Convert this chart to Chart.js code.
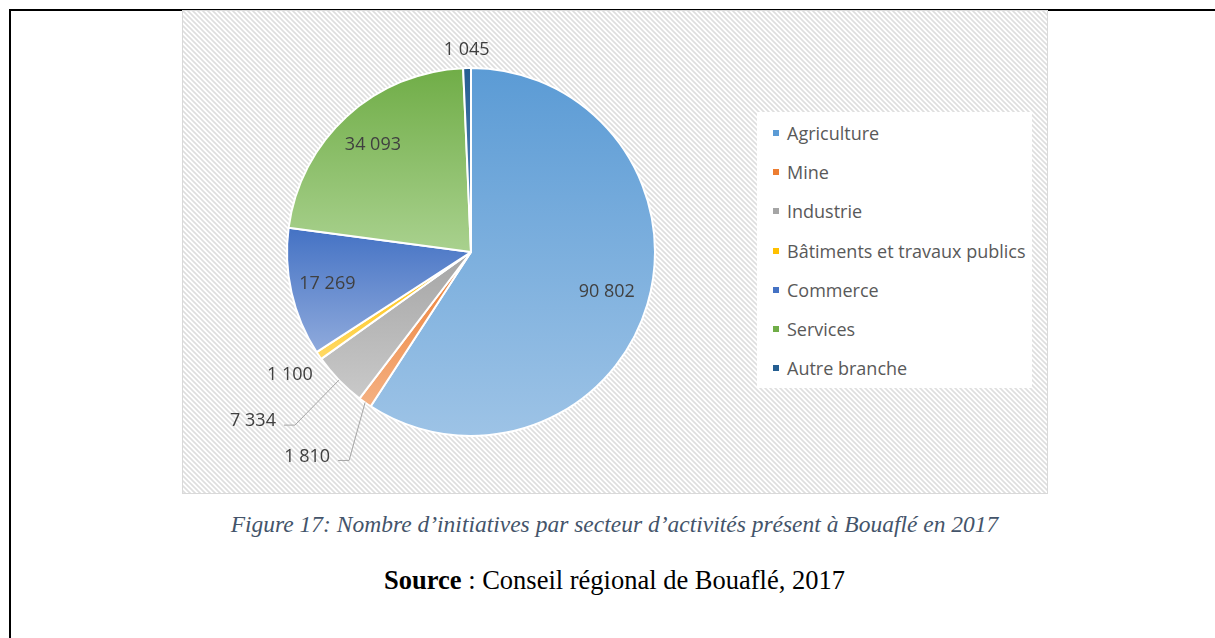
<!DOCTYPE html>
<html>
<head>
<meta charset="utf-8">
<script src="https://cdn.jsdelivr.net/npm/chart.js@4/dist/chart.umd.min.js"></script>
<style>
    body { margin: 0; background: #fff; width: 1215px; height: 638px; overflow: hidden; position: relative; }
    .frame-top { position: absolute; left: 9px; top: 9px; width: 1206px; height: 2px; background: #000; }
    .frame-left { position: absolute; left: 9px; top: 9px; width: 2px; height: 629px; background: #000; }
    #wrap { position: absolute; left: 182px; top: 10px; width: 866px; height: 484px; }
    #legend {
        position: absolute; left: 757px; top: 112px; width: 275px; height: 276px;
        background: #fff; font-family: "Open Sans", sans-serif; font-size: 18px; color: #595959;
    }
    .item { position: absolute; left: 16px; height: 22px; line-height: 22px; white-space: nowrap; }
    .item i { position: absolute; left: 0; top: 8px; width: 6px; height: 6px; }
    .item span { position: absolute; left: 14px; top: 0; }
    .caption {
        position: absolute; left: 0; width: 1229px; text-align: center;
        font-family: "Liberation Serif", "Times New Roman", serif;
    }
    #fig { top: 511px; font-size: 23.5px; font-style: italic; color: #44546A; }
    #src { top: 565px; font-size: 26.5px; color: #000; }
</style>
</head>
<body>
<div class="frame-top"></div>
<div class="frame-left"></div>
<div id="wrap"><canvas id="pieChart"></canvas></div>
<div id="legend"></div>
<div class="caption" id="fig">Figure 17: Nombre d’initiatives par secteur d’activités présent à Bouaflé en 2017</div>
<div class="caption" id="src"><b>Source</b> : Conseil régional de Bouaflé, 2017</div>
<script>
const labels = ['Agriculture', 'Mine', 'Industrie', 'Bâtiments et travaux publics', 'Commerce', 'Services', 'Autre branche'];
const values = [90802, 1810, 7334, 1100, 17269, 34093, 1045];
const valueLabels = ['90 802', '1 810', '7 334', '1 100', '17 269', '34 093', '1 045'];

// couleurs (haut / bas du dégradé)
const topColors = ['#5B9BD5', '#ED7D31', '#A5A5A5', '#FFC000', '#4472C4', '#70AD47', '#255E91'];
const bottomColors = ['#9DC3E6', '#F4B183', '#C9C9C9', '#FFD966', '#8FAADC', '#A9D18E', '#5B8BC0'];

// placement des étiquettes
const labelMode = ['in', 'leader', 'leader', 'out', 'in', 'in', 'out'];
const labelDist = [0.77, 0, 0, 35, 0.8, 0.79, 18];
const elbow = [null, [-16, 58], [-44, 45], null, null, null, null];

function makeHatch() {
    const c = document.createElement('canvas');
    c.width = 5; c.height = 5;
    const g = c.getContext('2d');
    g.fillStyle = '#ffffff';
    g.fillRect(0, 0, 5, 5);
    g.strokeStyle = '#dedede';
    g.lineWidth = 1.6;
    g.beginPath();
    g.moveTo(-1, -1); g.lineTo(6, 6);
    g.moveTo(-6, -1); g.lineTo(1, 6);
    g.moveTo(4, -1); g.lineTo(11, 6);
    g.stroke();
    return c;
}

const backgroundPlugin = {
    id: 'hatchBackground',
    beforeDraw(chart) {
        const ctx = chart.ctx;
        ctx.save();
        ctx.fillStyle = ctx.createPattern(makeHatch(), 'repeat');
        ctx.fillRect(0, 0, chart.width, chart.height);
        ctx.strokeStyle = '#d9d9d9';
        ctx.lineWidth = 1;
        ctx.strokeRect(0.5, 0.5, chart.width - 1, chart.height - 1);
        ctx.restore();
    }
};

// dégradé vertical propre à chaque part
const gradientPlugin = {
    id: 'sliceGradient',
    beforeDatasetsDraw(chart) {
        const ctx = chart.ctx;
        chart.getDatasetMeta(0).data.forEach((arc, i) => {
            let minY = arc.y, maxY = arc.y;
            for (let k = 0; k <= 40; k++) {
                const a = arc.startAngle + (arc.endAngle - arc.startAngle) * k / 40;
                const y = arc.y + arc.outerRadius * Math.sin(a);
                minY = Math.min(minY, y);
                maxY = Math.max(maxY, y);
            }
            const grad = ctx.createLinearGradient(0, minY, 0, maxY);
            grad.addColorStop(0, topColors[i]);
            grad.addColorStop(1, bottomColors[i]);
            arc.options.backgroundColor = grad;
        });
    }
};

const dataLabelPlugin = {
    id: 'valueLabels',
    afterDatasetsDraw(chart) {
        const ctx = chart.ctx;
        ctx.save();
        ctx.font = '18px "Open Sans", sans-serif';
        ctx.fillStyle = '#404040';
        ctx.textBaseline = 'middle';
        chart.getDatasetMeta(0).data.forEach((arc, i) => {
            const mid = (arc.startAngle + arc.endAngle) / 2;
            const r = arc.outerRadius;
            if (labelMode[i] === 'in' || labelMode[i] === 'out') {
                const d = labelMode[i] === 'in' ? r * labelDist[i] : r + labelDist[i];
                ctx.textAlign = 'center';
                ctx.fillText(valueLabels[i], arc.x + d * Math.cos(mid), arc.y + d * Math.sin(mid));
            } else {
                const ex = arc.x + r * Math.cos(mid);
                const ey = arc.y + r * Math.sin(mid);
                const bx = ex + elbow[i][0];
                const by = ey + elbow[i][1];
                ctx.strokeStyle = '#a6a6a6';
                ctx.lineWidth = 1;
                ctx.beginPath();
                ctx.moveTo(ex, ey);
                ctx.lineTo(bx, by);
                ctx.lineTo(bx - 11, by);
                ctx.stroke();
                ctx.textAlign = 'right';
                ctx.fillText(valueLabels[i], bx - 19, by - 4);
            }
        });
        ctx.restore();
    }
};

const legend = document.getElementById('legend');
labels.forEach((label, i) => {
    const item = document.createElement('div');
    item.className = 'item';
    item.style.top = (10 + i * 39.2) + 'px';
    item.innerHTML = '<i style="background:' + topColors[i] + '"></i><span>' + label + '</span>';
    legend.appendChild(item);
});

new Chart(document.getElementById('pieChart'), {
    type: 'pie',
    data: {
        labels: labels,
        datasets: [{
            data: values,
            backgroundColor: topColors,
            borderColor: '#ffffff',
            borderWidth: 2
        }]
    },
    options: {
        responsive: true,
        maintainAspectRatio: false,
        animation: false,
        layout: {
            padding: { top: 57, bottom: 57, left: 0, right: 288 }
        },
        plugins: {
            legend: { display: false },
            tooltip: { enabled: false }
        }
    },
    plugins: [backgroundPlugin, gradientPlugin, dataLabelPlugin]
});
</script>
</body>
</html>
